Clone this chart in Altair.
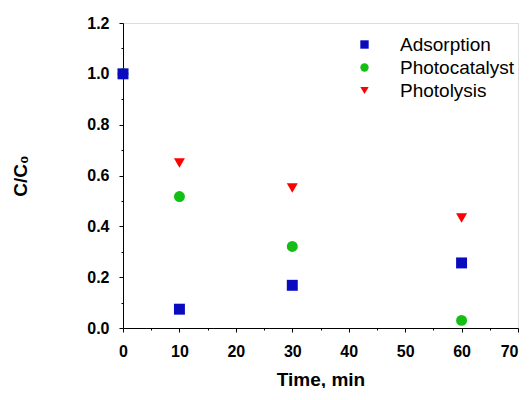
import altair as alt
import pandas as pd

times = [0, 10, 30, 60]
series_names = ["Adsorption", "Photocatalyst", "Photolysis"]
adsorption = [1.0, 0.074, 0.168, 0.256]
photocatalyst = [1.0, 0.517, 0.321, 0.030]
photolysis = [1.0, 0.649, 0.551, 0.433]
colors = ["#0A0ABE", "#14BE14", "#FF0000"]
shapes = ["square", "circle", "triangle-down"]
x_ticks = list(range(0, 75, 5))
y_ticks = [round(i * 0.1, 1) for i in range(13)]

rows = []
for name, vals in [("Photolysis", photolysis), ("Photocatalyst", photocatalyst), ("Adsorption", adsorption)]:
    for t, v in zip(times, vals):
        rows.append({"time": t, "value": v, "series": name})
df = pd.DataFrame(rows)

FONT = "Liberation Sans"

x_axis = alt.Axis(
    values=x_ticks,
    labelExpr="datum.value % 10 === 0 ? datum.label : ''",
    labelAlign={"condition": {"test": "datum.value >= 70", "value": "right"}, "value": "center"},
    tickSize={"condition": {"test": "datum.value % 10 === 0", "value": 4}, "value": 2},
    labelFont=FONT, labelFontSize=16, labelFontWeight="bold", labelColor="black",
    labelPadding=11, grid=False, domainColor="black", tickColor="black",
    titleFont=FONT, titleFontSize=19, titleFontWeight="bold", titleColor="black",
    titlePadding=11, labelFlush=False, labelOverlap=False,
)
y_axis = alt.Axis(
    values=y_ticks,
    format=".1f",
    labelExpr="round(datum.value * 10) % 2 === 0 ? datum.label : ''",
    tickSize={"condition": {"test": "round(datum.value * 10) % 2 === 0", "value": 4}, "value": 2},
    labelFont=FONT, labelFontSize=16, labelFontWeight="bold", labelColor="black",
    labelPadding=10, grid=False, domainColor="black", tickColor="black",
    titleFont=FONT, titleFontSize=19, titleFontWeight="bold", titleColor="black",
    titlePadding=56, labelFlush=False, labelOverlap=False,
)

chart = alt.Chart(df).mark_point(filled=True, opacity=1, size=120).encode(
    x=alt.X("time:Q", title="Time, min", scale=alt.Scale(domain=[0, 70], nice=False), axis=x_axis),
    y=alt.Y("value:Q", title="C/C₀", scale=alt.Scale(domain=[0, 1.2], nice=False), axis=y_axis),
    color=alt.Color("series:N", scale=alt.Scale(domain=series_names, range=colors),
                    legend=alt.Legend(title=None, orient="none", legendX=232, legendY=12,
                                      labelFont=FONT, labelFontSize=19, labelColor="black",
                                      labelOffset=26, symbolSize=70, rowPadding=3,
                                      symbolOpacity=1, padding=0)),
    shape=alt.Shape("series:N", scale=alt.Scale(domain=series_names, range=shapes)),
).properties(
    width=395, height=305,
    autosize=alt.AutoSizeParams(type="none"),
    padding={"left": 115, "top": 15, "right": 5, "bottom": 60},
).configure_view(stroke=None).configure(background="white")

chart.save("out.html", embed_options={"renderer": "svg", "actions": False})
